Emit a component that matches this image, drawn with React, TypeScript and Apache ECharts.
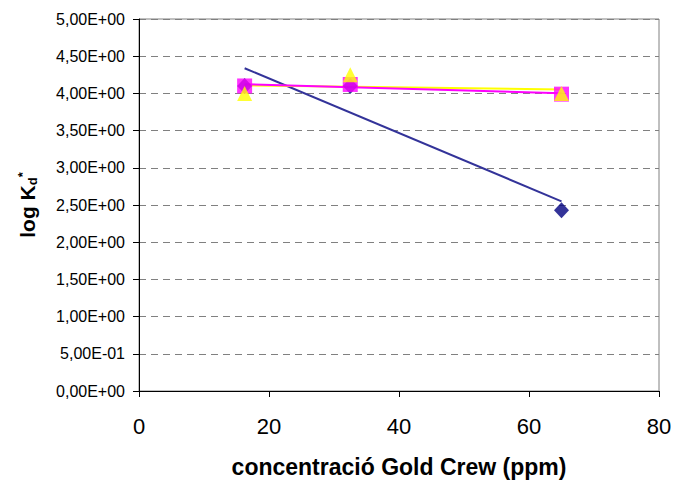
import React, { useEffect, useRef } from "react";
import * as echarts from "echarts";

const xValues = [16.25, 32.5, 65];
const seriesNavy = [4.1, 4.1, 2.43];
const seriesMagenta = [4.1, 4.12, 3.99];
const seriesYellow = [4.0, 4.25, 4.0];

function fit(xs: number[], ys: number[]) {
  const n = xs.length;
  const mx = xs.reduce((a, b) => a + b, 0) / n;
  const my = ys.reduce((a, b) => a + b, 0) / n;
  let sxy = 0, sxx = 0;
  for (let i = 0; i < n; i++) {
    sxy += (xs[i] - mx) * (ys[i] - my);
    sxx += (xs[i] - mx) * (xs[i] - mx);
  }
  const b = sxy / sxx;
  const a = my - b * mx;
  const x0 = xs[0], x1 = xs[n - 1];
  return [[x0, a + b * x0], [x1, a + b * x1]];
}

function fmtSci(v: number) {
  if (v === 0) return "0,00E+00";
  const e = Math.floor(Math.log10(Math.abs(v)) + 1e-9);
  const m = v / Math.pow(10, e);
  const sign = e < 0 ? "-" : "+";
  const ae = Math.abs(e);
  return m.toFixed(2).replace(".", ",") + "E" + sign + (ae < 10 ? "0" + ae : "" + ae);
}

const FONT = "'Liberation Sans', Arial, sans-serif";

export default function App() {
  const ref = useRef<HTMLDivElement>(null);
  useEffect(() => {
    if (!ref.current) return;
    const chart = echarts.init(ref.current, undefined, { renderer: "svg" });
    const pts = (ys: number[]) => xValues.map((x, i) => [x, ys[i]]);
    chart.setOption({
      animation: false,
      backgroundColor: "#ffffff",
      textStyle: { fontFamily: FONT },
      grid: {
        left: 130,
        right: 27,
        top: 11,
        bottom: 89,
        show: true,
        borderColor: "#808080",
        borderWidth: 1,
        backgroundColor: "transparent",
      },
      xAxis: {
        type: "value",
        min: 0,
        max: 80,
        interval: 20,
        name: "concentració Gold Crew (ppm)",
        nameLocation: "middle",
        nameGap: 64,
        nameTextStyle: { fontFamily: FONT, fontSize: 23, fontWeight: "bold", color: "#000" },
        axisLine: { show: true, onZero: false, lineStyle: { color: "#000", width: 1 } },
        axisTick: { show: true, length: 6, lineStyle: { color: "#000" } },
        axisLabel: { fontFamily: FONT, fontSize: 22, color: "#000", margin: 24 },
        splitLine: { show: false },
      },
      yAxis: {
        type: "value",
        min: 0,
        max: 5,
        interval: 0.5,
        name: "{b|log K}{sub|d}{sup|*}",
        nameLocation: "middle",
        nameRotate: 90,
        nameGap: 100,
        nameTextStyle: {
          rich: {
            b: { fontFamily: FONT, fontSize: 21, fontWeight: "bold", color: "#000" },
            sub: { fontFamily: FONT, fontSize: 13, fontWeight: "bold", color: "#000", verticalAlign: "bottom", padding: [10, 0, 0, 0] },
            sup: { fontFamily: FONT, fontSize: 13, fontWeight: "bold", color: "#000", verticalAlign: "top", padding: [0, 0, 10, 0] },
          },
        },
        axisLine: { show: true, lineStyle: { color: "#000", width: 1 } },
        axisTick: { show: true, length: 6, lineStyle: { color: "#000" } },
        axisLabel: { fontFamily: FONT, fontSize: 16, color: "#000", margin: 14, formatter: (v: number) => fmtSci(v) },
        splitLine: { show: true, lineStyle: { color: "#808080", type: [7, 5], width: 1 } },
      },
      series: [
        {
          type: "line",
          data: fit(xValues, seriesNavy),
          showSymbol: false,
          symbol: "none",
          lineStyle: { color: "#333399", width: 2 },
          z: 3,
        },
        {
          type: "line",
          data: fit(xValues, seriesYellow),
          showSymbol: false,
          symbol: "none",
          lineStyle: { color: "#FFFF00", width: 2 },
          z: 3,
        },
        {
          type: "line",
          data: fit(xValues, seriesMagenta),
          showSymbol: false,
          symbol: "none",
          lineStyle: { color: "#FF00FF", width: 2 },
          z: 3,
        },
        {
          type: "scatter",
          data: pts(seriesNavy),
          symbol: "diamond",
          symbolSize: [15, 16],
          itemStyle: { color: "#000080" },
          z: 4,
        },
        {
          type: "scatter",
          data: pts(seriesMagenta),
          symbol: "rect",
          symbolSize: 15,
          itemStyle: { color: "#FF00FF" },
          z: 5,
        },
        {
          type: "scatter",
          data: pts(seriesYellow),
          symbol: "triangle",
          symbolSize: [15, 15],
          itemStyle: { color: "#FFFF00" },
          z: 6,
        },
      ],
    });
    return () => chart.dispose();
  }, []);
  return <div ref={ref} style={{ width: 678, height: 475 }} />;
}
